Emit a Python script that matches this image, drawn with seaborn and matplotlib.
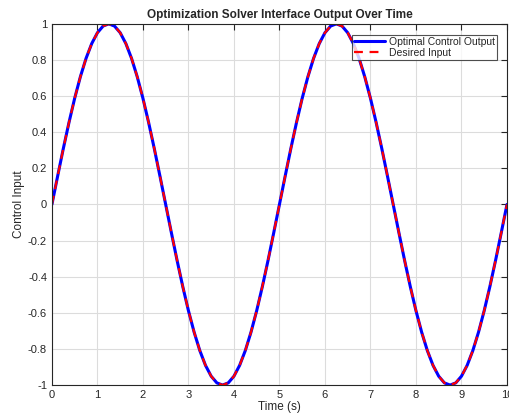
import numpy as np
import pandas as pd
import seaborn as sns
import matplotlib.pyplot as plt

time_s = [i * 0.125 for i in range(81)]
one_period = [0.0, 0.156, 0.309, 0.454, 0.588, 0.707, 0.809, 0.891, 0.951, 0.988,
              1.0, 0.988, 0.951, 0.891, 0.809, 0.707, 0.588, 0.454, 0.309, 0.156,
              0.0, -0.156, -0.309, -0.454, -0.588, -0.707, -0.809, -0.891, -0.951, -0.988,
              -1.0, -0.988, -0.951, -0.891, -0.809, -0.707, -0.588, -0.454, -0.309, -0.156]
control_output = one_period + one_period + [0.0]
desired_input = one_period + one_period + [0.0]

df = pd.DataFrame({'t': time_s, 'out': control_output, 'des': desired_input})

sns.set_style('white')
plt.rcParams['font.family'] = ['Liberation Sans', 'DejaVu Sans']

fig = plt.figure(figsize=(5.09, 4.19), dpi=100)
ax = fig.add_axes([0.102, 0.081, 0.894, 0.862])

sns.lineplot(data=df, x='t', y='out', ax=ax, color='#0000ff', linewidth=2.2,
             label='Optimal Control Output')
sns.lineplot(data=df, x='t', y='des', ax=ax, color='#ff0000', linewidth=1.6,
             linestyle=(0, (4, 3)), label='Desired Input')

ax.set_xlim(0, 10)
ax.set_ylim(-1, 1)
ax.set_xticks(range(0, 11))
ax.set_yticks(np.round(np.arange(-1, 1.01, 0.2), 1))
ax.set_yticklabels(['-1', '-0.8', '-0.6', '-0.4', '-0.2', '0', '0.2', '0.4', '0.6', '0.8', '1'])
ax.grid(True, color='#dcdcdc', linewidth=0.8)
ax.tick_params(direction='in', length=4, labelsize=8, colors='#262626',
               top=True, right=True, width=0.8)
for s in ax.spines.values():
    s.set_color('#262626')
    s.set_linewidth(0.8)

ax.set_xlabel('Time (s)', fontsize=8.5, labelpad=1, color='#262626')
ax.set_ylabel('Control Input', fontsize=8.5, labelpad=2, color='#262626')
ax.set_title('Optimization Solver Interface Output Over Time', fontsize=8.5,
             fontweight='bold', pad=4)

leg = ax.legend(loc='upper right', fontsize=7.5, frameon=True, fancybox=False,
                borderaxespad=0.5, handlelength=3, borderpad=0.2, labelspacing=0.1,
                handletextpad=0.4, bbox_to_anchor=(0.99, 0.985))
leg.get_frame().set_edgecolor('#262626')
leg.get_frame().set_linewidth(0.8)

plt.savefig('out.png', dpi=100)
